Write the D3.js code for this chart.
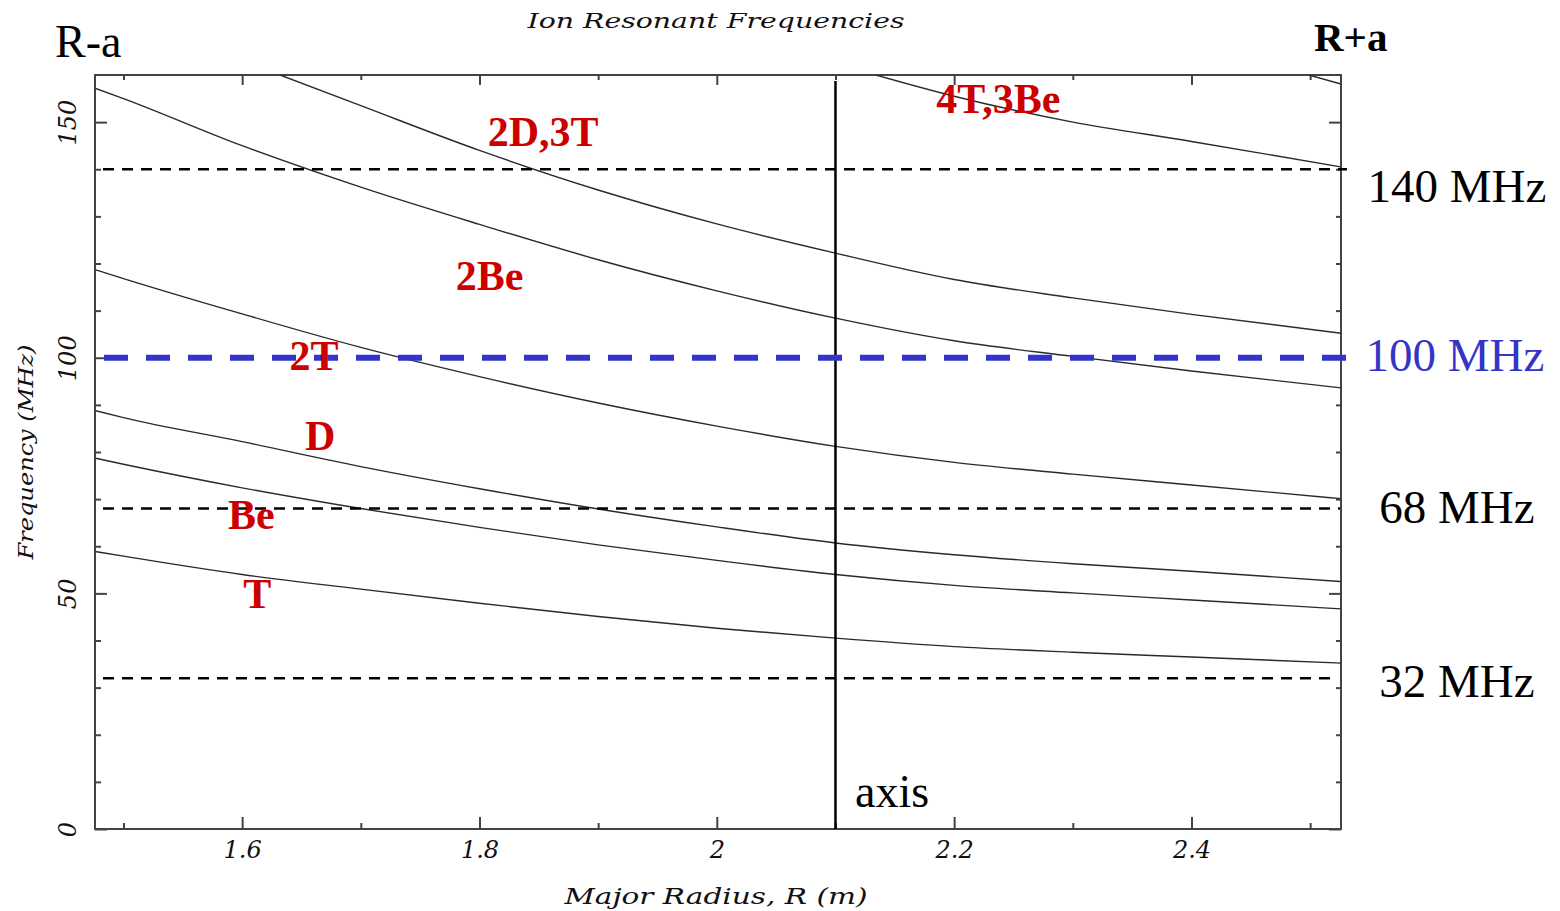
<!DOCTYPE html>
<html>
<head>
<meta charset="utf-8">
<script src="https://cdn.jsdelivr.net/npm/d3@7"></script>
<style>
  html, body { margin: 0; padding: 0; background: #fff; }
  svg { display: block; }
</style>
</head>
<body>
<svg id="chart" width="1560" height="911"></svg>
<script>
// Major radius samples (m) shared by most resonance curves
const radius = [1.476, 1.5, 1.6, 1.7, 1.8, 1.9, 2.0, 2.1, 2.2, 2.3, 2.4, 2.526];

// Fundamental and harmonic ion cyclotron frequencies (MHz)
const freqT   = [58.9, 57.9, 54.0, 50.9, 47.9, 45.1, 42.6, 40.5, 38.7, 37.5, 36.5, 35.2];
const freqBe  = [78.7, 77.4, 72.4, 68.0, 64.0, 60.3, 57.0, 54.0, 51.7, 50.1, 48.6, 46.7];
const freqD   = [88.8, 87.3, 82.2, 76.9, 72.2, 67.9, 64.1, 60.7, 58.2, 56.3, 54.7, 52.5];
const freq2T  = [118.7, 116.8, 109.3, 102.2, 96.0, 90.4, 85.5, 81.2, 77.8, 75.3, 73.0, 70.1];
const freq2Be = [157.2, 155.0, 145.0, 136.2, 128.3, 120.8, 114.2, 108.4, 103.6, 100.3, 97.2, 93.6];

// Higher harmonics enter the frame from the top edge
const radius2D3T = [1.632, 1.7, 1.8, 1.9, 2.0, 2.1, 2.2, 2.3, 2.4, 2.526];
const freq2D3T   = [160.0, 153.5, 144.0, 135.6, 128.4, 122.2, 116.6, 112.7, 109.2, 105.2];
const radius4T3Be = [2.134, 2.2, 2.3, 2.4, 2.526];
const freq4T3Be   = [160.0, 155.5, 150.0, 145.9, 140.5];
const radius3D = [2.499, 2.526];
const freq3D   = [160.0, 158.1];

// Reference frequencies of the heating system (MHz)
const refFreqs  = [140, 68, 32];
const refLabels = ["140 MHz", "68 MHz", "32 MHz"];
const mainFreq  = 100;
const mainLabel = "100 MHz";
const magneticAxis = 2.1;

// Tick values
const xMajor = [1.6, 1.8, 2.0, 2.2, 2.4];
const xMinor = [1.5, 1.7, 1.9, 2.1, 2.3, 2.5];
const yMajor = [0, 50, 100, 150];
const yMinor = [10, 20, 30, 40, 60, 70, 80, 90, 110, 120, 130, 140];

const curves = [
  { r: radius, f: freqT },
  { r: radius, f: freqBe },
  { r: radius, f: freqD },
  { r: radius, f: freq2T },
  { r: radius, f: freq2Be },
  { r: radius2D3T, f: freq2D3T },
  { r: radius4T3Be, f: freq4T3Be },
  { r: radius3D, f: freq3D }
];

// Species labels, placed at (R, f) of their text baseline start
const speciesLabels = [
  { text: "2D,3T",  r: 1.807, f: 145.0 },
  { text: "2Be",    r: 1.780, f: 114.4 },
  { text: "2T",     r: 1.640, f: 97.5 },
  { text: "D",      r: 1.653, f: 80.5 },
  { text: "Be",     r: 1.588, f: 63.7 },
  { text: "T",      r: 1.601, f: 47.0 },
  { text: "4T,3Be", r: 2.185, f: 152.0 }
];

const svg = d3.select("#chart");
const plotLeft = 95, plotRight = 1341, plotTop = 75, plotBottom = 829;

const x = d3.scaleLinear().domain([1.476, 2.526]).range([plotLeft, plotRight]);
const y = d3.scaleLinear().domain([0, 160]).range([plotBottom, plotTop]);

const frameColor = "#444";
const tickFont = "'DejaVu Serif', serif";
const serif = "'Liberation Serif', 'Times New Roman', serif";

svg.append("defs").append("clipPath").attr("id", "plot-clip")
  .append("rect").attr("x", plotLeft).attr("y", plotTop)
  .attr("width", plotRight - plotLeft).attr("height", plotBottom - plotTop);

// Axes with ticks pointing into the plot
function styleAxis(g) {
  g.select(".domain").remove();
  g.selectAll(".tick line").attr("stroke", frameColor).attr("stroke-width", 2);
}

svg.append("g").attr("transform", `translate(0,${plotBottom})`)
  .call(d3.axisBottom(x).tickValues(xMinor).tickSizeInner(-6).tickSizeOuter(0).tickFormat(""))
  .call(styleAxis);
const xAxisG = svg.append("g").attr("transform", `translate(0,${plotBottom})`)
  .call(d3.axisBottom(x).tickValues(xMajor).tickSizeInner(-12).tickSizeOuter(0)
    .tickPadding(12).tickFormat(d => d3.format("~g")(d)))
  .call(styleAxis);
xAxisG.selectAll("text")
  .attr("font-family", tickFont).attr("font-style", "italic")
  .attr("font-size", 24).attr("fill", "#111");

svg.append("g").attr("transform", `translate(0,${plotTop})`)
  .call(d3.axisTop(x).tickValues(xMinor).tickSizeInner(-5).tickSizeOuter(0).tickFormat(""))
  .call(styleAxis);
svg.append("g").attr("transform", `translate(0,${plotTop})`)
  .call(d3.axisTop(x).tickValues(xMajor).tickSizeInner(-10).tickSizeOuter(0).tickFormat(""))
  .call(styleAxis);

svg.append("g").attr("transform", `translate(${plotLeft},0)`)
  .call(d3.axisLeft(y).tickValues(yMinor).tickSizeInner(-6).tickSizeOuter(0).tickFormat(""))
  .call(styleAxis);
const yAxisG = svg.append("g").attr("transform", `translate(${plotLeft},0)`)
  .call(d3.axisLeft(y).tickValues(yMajor).tickSizeInner(-12).tickSizeOuter(0))
  .call(styleAxis);
yAxisG.selectAll("text")
  .attr("x", null).attr("dy", null)
  .attr("transform", "translate(-19,0) rotate(-90)")
  .attr("text-anchor", "middle")
  .attr("font-family", tickFont).attr("font-style", "italic")
  .attr("font-size", 24).attr("fill", "#111");

svg.append("g").attr("transform", `translate(${plotRight},0)`)
  .call(d3.axisRight(y).tickValues(yMinor).tickSizeInner(-5).tickSizeOuter(0).tickFormat(""))
  .call(styleAxis);
svg.append("g").attr("transform", `translate(${plotRight},0)`)
  .call(d3.axisRight(y).tickValues(yMajor).tickSizeInner(-12).tickSizeOuter(0).tickFormat(""))
  .call(styleAxis);

// Plot frame
svg.append("rect")
  .attr("x", plotLeft).attr("y", plotTop)
  .attr("width", plotRight - plotLeft).attr("height", plotBottom - plotTop)
  .attr("fill", "none").attr("stroke", frameColor).attr("stroke-width", 2);

// Resonance curves
const line = d3.line().curve(d3.curveMonotoneX).x(d => x(d[0])).y(d => y(d[1]));
svg.append("g").attr("clip-path", "url(#plot-clip)")
  .selectAll("path").data(curves).join("path")
  .attr("d", c => line(c.r.map((r, i) => [r, c.f[i]])))
  .attr("fill", "none").attr("stroke", "#2a2a2a").attr("stroke-width", 1.4);

// Magnetic axis
svg.append("line")
  .attr("x1", x(magneticAxis)).attr("x2", x(magneticAxis))
  .attr("y1", plotTop + 6).attr("y2", plotBottom)
  .attr("stroke", "#000").attr("stroke-width", 2.5);

// Reference frequency lines
const refEnds = [1347, 1340, 1330];
svg.append("g").selectAll("line").data(refFreqs).join("line")
  .attr("x1", 103).attr("x2", (d, i) => refEnds[i])
  .attr("y1", d => y(d)).attr("y2", d => y(d))
  .attr("stroke", "#000").attr("stroke-width", 2.5)
  .attr("stroke-dasharray", "11 8");

svg.append("line")
  .attr("x1", 104).attr("x2", 1346)
  .attr("y1", y(mainFreq)).attr("y2", y(mainFreq))
  .attr("stroke", "#3434c8").attr("stroke-width", 6)
  .attr("stroke-dasharray", "24 18");

// Species labels
svg.append("g").selectAll("text").data(speciesLabels).join("text")
  .attr("x", d => x(d.r)).attr("y", d => y(d.f))
  .attr("font-family", serif)
  .attr("font-weight", "bold").attr("font-size", 42)
  .attr("fill", "#cc0000")
  .text(d => d.text);

// Frequency labels on the right (baseline offsets below each line)
const refLabelOffsets = [33, 14, 19];
svg.append("g").selectAll("text").data(refFreqs).join("text")
  .attr("x", 1457).attr("y", (d, i) => y(d) + refLabelOffsets[i])
  .attr("text-anchor", "middle")
  .attr("font-family", serif).attr("font-size", 47).attr("fill", "#000")
  .text((d, i) => refLabels[i]);
svg.append("text")
  .attr("x", 1455).attr("y", y(mainFreq) + 13)
  .attr("text-anchor", "middle")
  .attr("font-family", serif).attr("font-size", 47).attr("fill", "#3434c8")
  .text(mainLabel);

// Edge annotations
svg.append("text").attr("x", 55).attr("y", 57)
  .attr("font-family", serif).attr("font-size", 46).attr("fill", "#000").text("R-a");
svg.append("text").attr("x", 1314).attr("y", 51)
  .attr("font-family", serif).attr("font-weight", "bold").attr("font-size", 41)
  .attr("fill", "#000").text("R+a");
svg.append("text").attr("x", 855).attr("y", 807)
  .attr("font-family", serif).attr("font-size", 46).attr("fill", "#000").text("axis");

// Titles
svg.append("text").attr("x", 716).attr("y", 28)
  .attr("text-anchor", "middle")
  .attr("font-family", tickFont).attr("font-style", "italic").attr("font-size", 21)
  .attr("textLength", 377).attr("lengthAdjust", "spacingAndGlyphs")
  .attr("fill", "#111").text("Ion Resonant Frequencies");
svg.append("text").attr("x", 716).attr("y", 904)
  .attr("text-anchor", "middle")
  .attr("font-family", tickFont).attr("font-style", "italic").attr("font-size", 22)
  .attr("textLength", 303).attr("lengthAdjust", "spacingAndGlyphs")
  .attr("fill", "#111").text("Major Radius, R (m)");
svg.append("text")
  .attr("transform", "translate(33,452) rotate(-90)")
  .attr("text-anchor", "middle")
  .attr("font-family", tickFont).attr("font-style", "italic").attr("font-size", 21)
  .attr("textLength", 215).attr("lengthAdjust", "spacingAndGlyphs")
  .attr("fill", "#111").text("Frequency (MHz)");
</script>
</body>
</html>
